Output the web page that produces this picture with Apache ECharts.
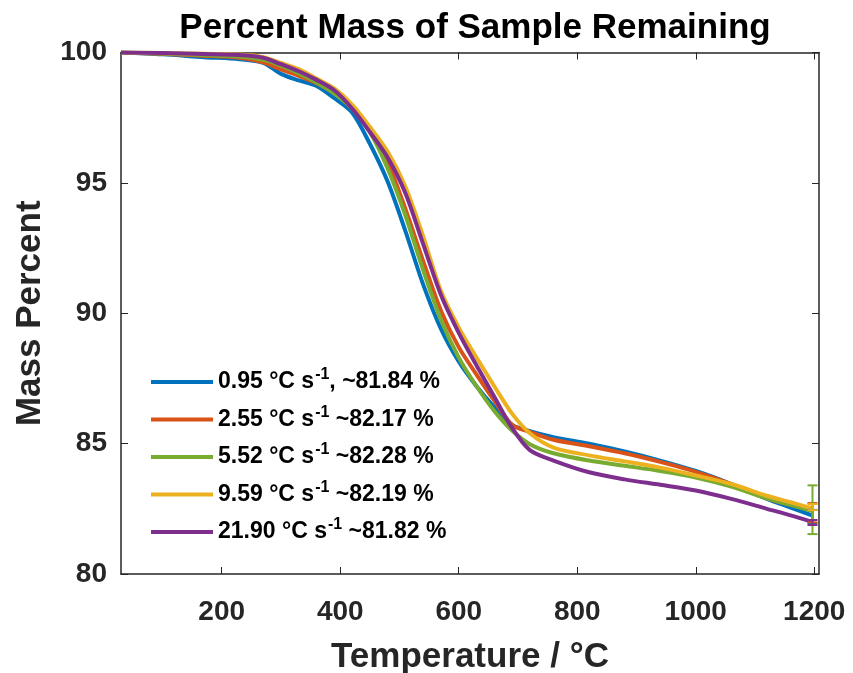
<!DOCTYPE html>
<html>
<head>
<meta charset="utf-8">
<script src="https://cdn.jsdelivr.net/npm/echarts@6/dist/echarts.min.js"></script>
<style>
html,body{margin:0;padding:0;background:#fff;}
#chart{width:853px;height:673px;}
</style>
</head>
<body>
<div id="chart"></div>
<script>
// ---- data ----
const temps  = [30, 100, 170, 230, 270, 300, 330, 360, 390, 420, 450, 480, 510, 540, 570, 600, 630, 660, 690, 720, 760, 820, 880, 940, 1000, 1060, 1120, 1160, 1196];
const rate095 = [100, 99.93, 99.82, 99.74, 99.6, 99.18, 98.93, 98.72, 98.25, 97.7, 96.5, 95.05, 93.15, 91.1, 89.4, 88.15, 87.2, 86.4, 85.72, 85.48, 85.25, 85.0, 84.7, 84.35, 83.95, 83.45, 82.88, 82.55, 82.25];
const rate255 = [100, 99.95, 99.88, 99.8, 99.62, 99.35, 99.1, 98.82, 98.45, 97.9, 97.05, 95.8, 94.0, 92.0, 90.1, 88.7, 87.65, 86.65, 85.72, 85.45, 85.15, 84.9, 84.63, 84.3, 83.92, 83.45, 82.9, 82.65, 82.48];
const rate552 = [100, 99.96, 99.9, 99.85, 99.72, 99.5, 99.2, 98.85, 98.42, 97.85, 96.95, 95.55, 93.75, 91.65, 89.75, 88.3, 87.2, 86.25, 85.5, 84.98, 84.63, 84.35, 84.15, 83.95, 83.7, 83.35, 82.9, 82.65, 82.42];
const rate959 = [100, 99.98, 99.95, 99.92, 99.82, 99.6, 99.36, 99.0, 98.62, 98.0, 97.15, 96.2, 94.85, 92.95, 90.85, 89.45, 88.3, 87.2, 86.15, 85.4, 84.85, 84.55, 84.32, 84.08, 83.78, 83.45, 83.0, 82.75, 82.52];
const rate2190 = [100, 99.98, 99.94, 99.9, 99.8, 99.55, 99.28, 98.95, 98.55, 97.85, 96.95, 95.97, 94.6, 92.65, 90.7, 89.25, 88.0, 86.8, 85.6, 84.75, 84.35, 83.9, 83.63, 83.42, 83.2, 82.88, 82.5, 82.25, 82.0];

const seriesValues = [rate095, rate255, rate552, rate959, rate2190];
const rateLabels = ['0.95', '2.55', '5.52', '9.59', '21.90'];
const tailLabels = [', ~81.84 %', ' ~82.17 %', ' ~82.28 %', ' ~82.19 %', ' ~81.82 %'];
const colors = ['#0072BD', '#D95319', '#77AC30', '#EDB120', '#7E2F8E'];

// error bars at final temperature
const errTemp = 1197;
const errLow  = [81.95, 81.98, 81.53, 82.45, 81.88];
const errHigh = [82.46, 82.72, 83.40, 82.68, 82.07];

const xTicks = [200, 400, 600, 800, 1000, 1200];

// ---- chart ----
const names = rateLabels.map((r, i) => r + ' °C s-1' + tailLabels[i]);
const chart = echarts.init(document.getElementById('chart'), null, {renderer: 'canvas'});

const lineSeries = seriesValues.map((vals, i) => ({
  name: names[i],
  type: 'line',
  data: temps.map((t, j) => [t, vals[j]]),
  smooth: 0.3,
  symbol: 'none',
  lineStyle: {width: 4, color: colors[i]},
  itemStyle: {color: colors[i]},
  z: 2 + i
}));

const errSeries = {
  type: 'custom',
  name: 'err',
  data: errLow.map((lo, i) => [errTemp, lo, errHigh[i], i]),
  encode: {x: 0, y: [1, 2]},
  renderItem: function (params, api) {
    const x = api.value(0);
    const p1 = api.coord([x, api.value(1)]);
    const p2 = api.coord([x, api.value(2)]);
    const c = colors[api.value(3)];
    const hw = 5;
    const st = {stroke: c, lineWidth: 2};
    return {
      type: 'group',
      children: [
        {type: 'line', shape: {x1: p1[0], y1: p1[1], x2: p2[0], y2: p2[1]}, style: st},
        {type: 'line', shape: {x1: p1[0] - hw, y1: p1[1], x2: p1[0] + hw, y2: p1[1]}, style: st},
        {type: 'line', shape: {x1: p2[0] - hw, y1: p2[1], x2: p2[0] + hw, y2: p2[1]}, style: st}
      ]
    };
  },
  z: 10
};

const axisTxt = '#262626';
const fontFam = '"Liberation Sans", Arial, Helvetica, sans-serif';

const option = {
  backgroundColor: '#fff',
  animation: false,
  title: {
    text: 'Percent Mass of Sample Remaining',
    left: 470, textAlign: 'center', top: 6,
    textStyle: {fontFamily: fontFam, fontSize: 35, fontWeight: 'bold', color: '#000'}
  },
  grid: {left: 121, right: 34, top: 52.5, bottom: 99, containLabel: false, outerBoundsMode: 'none'},
  legend: {
    orient: 'vertical',
    left: 146, top: 362,
    icon: 'rect',
    itemWidth: 62, itemHeight: 4, itemGap: 11,
    data: names,
    formatter: function (name) {
      const i = names.indexOf(name);
      return '{b|' + rateLabels[i] + ' °C s}{sup|-1}{b|' + tailLabels[i] + '}';
    },
    textStyle: {
      fontFamily: fontFam, fontSize: 23, fontWeight: 'bold', color: '#000',
      rich: {
        b: {fontFamily: fontFam, fontSize: 23, fontWeight: 'bold', color: '#000'},
        sup: {fontFamily: fontFam, fontSize: 16, fontWeight: 'bold', color: '#000', padding: [0, 0, 14, 1]}
      }
    }
  },
  xAxis: [{
    type: 'value', min: 30, max: 1208, position: 'bottom',
    name: 'Temperature / °C', nameLocation: 'middle', nameGap: 66,
    nameTextStyle: {fontFamily: fontFam, fontSize: 35, fontWeight: 'bold', color: axisTxt},
    axisLine: {show: true, lineStyle: {color: axisTxt, width: 1.5}},
    axisTick: {show: true, inside: true, length: 7, customValues: xTicks, lineStyle: {color: axisTxt}},
    axisLabel: {customValues: xTicks, margin: 24, formatter: v => String(v),
      fontFamily: fontFam, fontSize: 28, fontWeight: 'bold', color: axisTxt},
    splitLine: {show: false}
  }, {
    type: 'value', min: 30, max: 1208, position: 'top',
    axisLine: {show: true, onZero: false, lineStyle: {color: axisTxt, width: 1.5}},
    axisTick: {show: true, inside: true, length: 7, customValues: xTicks, lineStyle: {color: axisTxt}},
    axisLabel: {show: false},
    splitLine: {show: false}
  }],
  yAxis: [{
    type: 'value', min: 80, max: 100, interval: 5, position: 'left',
    name: 'Mass Percent', nameLocation: 'middle', nameGap: 73,
    nameTextStyle: {fontFamily: fontFam, fontSize: 35, fontWeight: 'bold', color: axisTxt},
    axisLine: {show: true, lineStyle: {color: axisTxt, width: 1.5}},
    axisTick: {show: true, inside: true, length: 7, lineStyle: {color: axisTxt}},
    axisLabel: {margin: 14, fontFamily: fontFam, fontSize: 28, fontWeight: 'bold', color: axisTxt},
    splitLine: {show: false}
  }, {
    type: 'value', min: 80, max: 100, interval: 5, position: 'right',
    axisLine: {show: true, onZero: false, lineStyle: {color: axisTxt, width: 1.5}},
    axisTick: {show: true, inside: true, length: 7, lineStyle: {color: axisTxt}},
    axisLabel: {show: false},
    splitLine: {show: false}
  }],
  series: lineSeries.concat([errSeries])
};
chart.setOption(option);
</script>
</body>
</html>
